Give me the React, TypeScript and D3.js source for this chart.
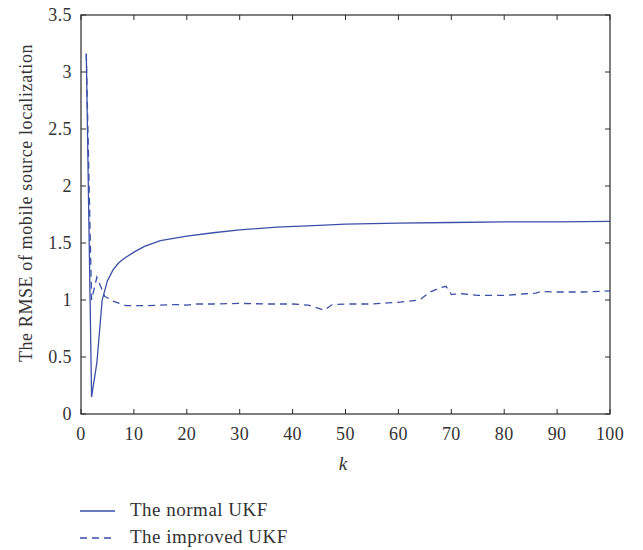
import React from "react";
import * as d3 from "d3";

const normalK = [1, 2, 3, 4, 5, 6, 7, 8, 10, 12, 15, 20, 25, 30, 37, 45, 50, 60, 70, 80, 90, 100];
const normalV = [3.16, 0.15, 0.45, 1.0, 1.17, 1.26, 1.32, 1.36, 1.42, 1.47, 1.52, 1.56, 1.59, 1.615, 1.64, 1.655, 1.665, 1.675, 1.68, 1.685, 1.685, 1.69];

const improvedK = [1, 2, 3, 4.5, 5, 6, 8.5, 10, 12, 15, 18, 20, 22, 25, 30, 35, 40, 43, 46, 47.5, 50, 55, 58, 60, 62, 64, 66, 68, 69, 70, 72, 75, 80, 84, 86, 87, 90, 95, 100];
const improvedV = [3.16, 1.0, 1.2, 1.03, 1.02, 0.99, 0.95, 0.95, 0.95, 0.955, 0.96, 0.955, 0.965, 0.965, 0.97, 0.965, 0.965, 0.955, 0.91, 0.96, 0.965, 0.965, 0.975, 0.98, 0.99, 1.0, 1.07, 1.11, 1.12, 1.05, 1.055, 1.04, 1.04, 1.055, 1.06, 1.075, 1.07, 1.07, 1.08];

const xTicks = [0, 10, 20, 30, 40, 50, 60, 70, 80, 90, 100];
const yTicks = [0, 0.5, 1, 1.5, 2, 2.5, 3, 3.5];

const legendLabels = ["The normal UKF", "The improved UKF"];

export default function App() {
  const W = 643, H = 550;
  const left = 81, right = 610, top = 15, bottom = 414;
  const x = d3.scaleLinear().domain([0, 100]).range([left, right]);
  const y = d3.scaleLinear().domain([0, 3.5]).range([bottom, top]);
  const line = d3.line<[number, number]>().x(d => x(d[0])).y(d => y(d[1]));
  const normal = line(normalK.map((k, i) => [k, normalV[i]] as [number, number])) || "";
  const improved = line(improvedK.map((k, i) => [k, improvedV[i]] as [number, number])) || "";
  const color = "#3b4fa8";
  const axisColor = "#2b2b2b";
  const font = "'Liberation Serif', 'Times New Roman', serif";
  const tl = 5;
  return (
    <svg width={W} height={H} style={{ position: "absolute", left: 0, top: 0, background: "#fff" }}>
      <rect x={left} y={top} width={right - left} height={bottom - top} fill="none" stroke={axisColor} strokeWidth={1.2} />
      {xTicks.map(t => (
        <g key={"x" + t}>
          <line x1={x(t)} x2={x(t)} y1={bottom} y2={bottom - tl} stroke={axisColor} />
          <line x1={x(t)} x2={x(t)} y1={top} y2={top + tl} stroke={axisColor} />
          <text x={x(t)} y={440} textAnchor="middle" fontFamily={font} fontSize={18} letterSpacing={0.4} fill="#333">{t}</text>
        </g>
      ))}
      {yTicks.map(t => (
        <g key={"y" + t}>
          <line x1={left} x2={left + tl} y1={y(t)} y2={y(t)} stroke={axisColor} />
          <line x1={right} x2={right - tl} y1={y(t)} y2={y(t)} stroke={axisColor} />
          <text x={72} y={y(t) + 6} textAnchor="end" fontFamily={font} fontSize={18} letterSpacing={0.4} fill="#333">{t}</text>
        </g>
      ))}
      <text x={343} y={470} textAnchor="middle" fontFamily={font} fontSize={19} fontStyle="italic" fill="#333">k</text>
      <text transform={`translate(32, 203) rotate(-90)`} textAnchor="middle" fontFamily={font} fontSize={18} letterSpacing={0.6} fill="#333">The RMSE of mobile source localization</text>
      <path d={normal} fill="none" stroke={color} strokeWidth={1.3} />
      <path d={improved} fill="none" stroke={color} strokeWidth={1.3} strokeDasharray="7,5" />
      {legendLabels.map((lab, i) => (
        <g key={lab}>
          <line x1={80} x2={115} y1={511 + i * 27} y2={511 + i * 27} stroke={color} strokeWidth={1.3} strokeDasharray={i === 1 ? "7,5" : undefined} />
          <text x={130} y={516 + i * 27} fontFamily={font} fontSize={19} letterSpacing={0.5} fill="#333">{lab}</text>
        </g>
      ))}
    </svg>
  );
}
